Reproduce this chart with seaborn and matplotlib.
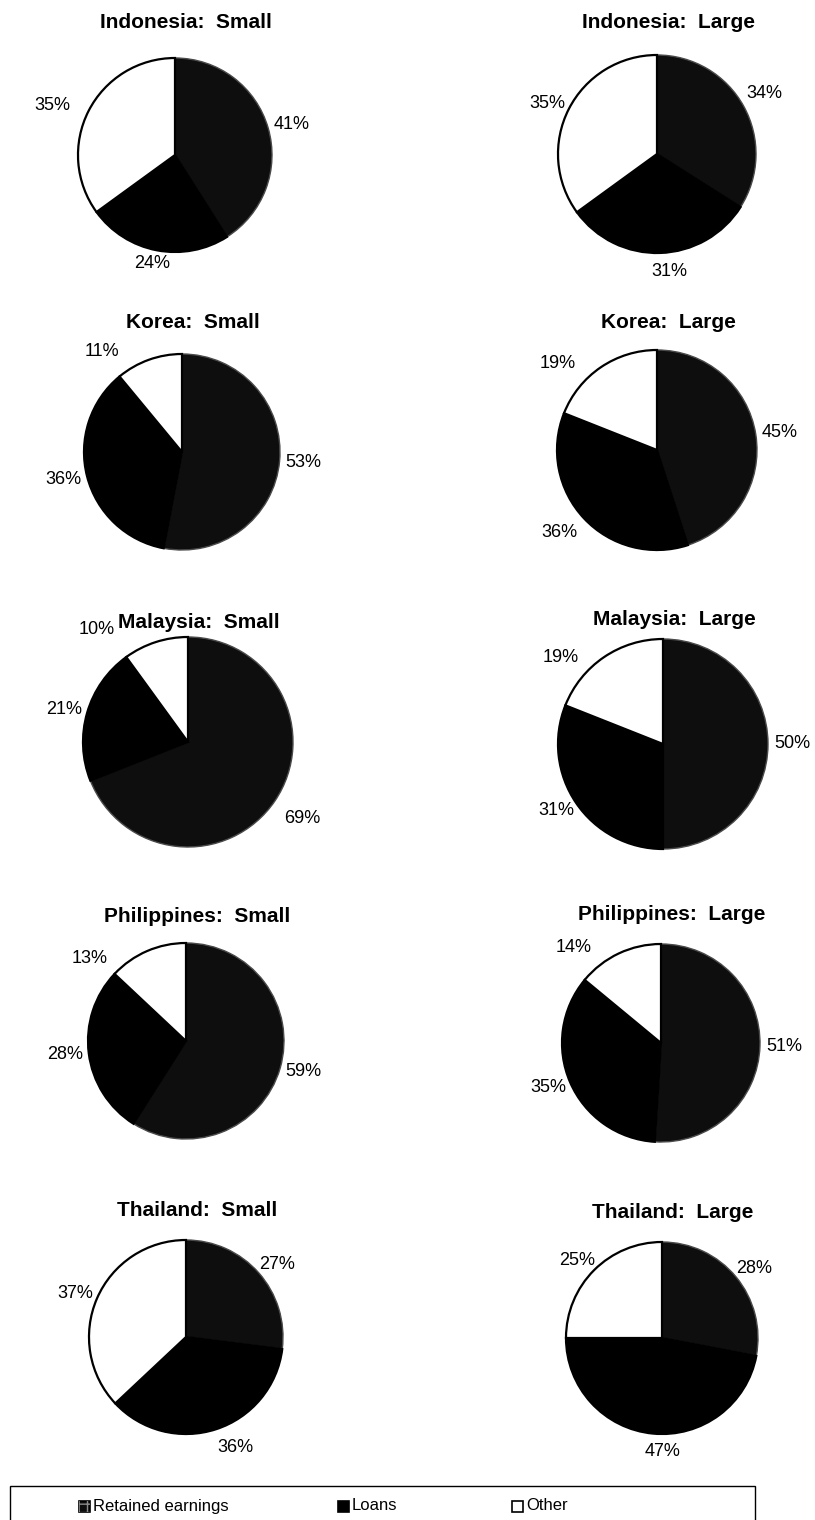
import numpy as np
import matplotlib
matplotlib.use("Agg")
import matplotlib.pyplot as plt
from matplotlib.patches import Rectangle
import seaborn as sns

# ---- data: financing shares (%) by country and firm size ----
countries = ["Indonesia", "Korea", "Malaysia", "Philippines", "Thailand"]
sizes = ["Small", "Large"]
segments = ["Retained earnings", "Loans", "Other"]

retained_small = [41, 53, 69, 59, 27]
loans_small = [24, 36, 21, 28, 36]
other_small = [35, 11, 10, 13, 37]

retained_large = [34, 45, 50, 51, 28]
loans_large = [31, 36, 31, 35, 47]
other_large = [35, 19, 19, 14, 25]

values = {
    "Small": list(zip(retained_small, loans_small, other_small)),
    "Large": list(zip(retained_large, loans_large, other_large)),
}

# ---- layout (pixels) ----
W, H = 815, 1520
pie_cx = {"Small": [175, 182, 188, 186, 186], "Large": [657, 657, 663, 661, 662]}
pie_cy = {"Small": [155, 452, 742, 1041, 1337], "Large": [154, 450, 744, 1043, 1338]}
pie_r = {"Small": [97, 98, 105, 98, 97], "Large": [99, 100, 105, 99, 96]}
title_y = {"Small": [22, 323, 622, 917, 1211], "Large": [23, 323, 619, 915, 1212]}
title_dx = 11

# hand adjustments of individual percentage labels (dx, dy in px, y down)
label_nudge = {
    ("Indonesia", "Small", "Other"): (-15, 0),
    ("Indonesia", "Large", "Retained earnings"): (0, -7),
    ("Indonesia", "Large", "Loans"): (8, 6),
    ("Korea", "Small", "Other"): (-39, 4),
    ("Korea", "Large", "Loans"): (-7, 5),
    ("Korea", "Large", "Other"): (-30, 7),
    ("Malaysia", "Small", "Retained earnings"): (8, 10),
    ("Malaysia", "Small", "Other"): (-51, 0),
    ("Malaysia", "Large", "Other"): (-30, 11),
    ("Philippines", "Small", "Other"): (-48, 19),
    ("Philippines", "Large", "Other"): (-35, 6),
    ("Thailand", "Small", "Loans"): (12, 6),
    ("Thailand", "Large", "Loans"): (12, 5),
}

colors = ["#0e0e0e", "#000000", "#ffffff"]

sns.set_theme(style="white")
plt.rcParams["font.family"] = ["Liberation Sans", "DejaVu Sans"]

fig = plt.figure(figsize=(W / 100, H / 100), dpi=100)
fig.patch.set_facecolor("white")

LABEL_W, LABEL_H, GAP = 38, 16, 5

for size in sizes:
    for i, country in enumerate(countries):
        cx, cy, r = pie_cx[size][i], pie_cy[size][i], pie_r[size][i]
        ax = fig.add_axes([(cx - r) / W, 1 - (cy + r) / H, 2 * r / W, 2 * r / H])
        vals = values[size][i]
        wedges, _ = ax.pie(
            vals, colors=colors, startangle=90, counterclock=False,
            radius=1, wedgeprops=dict(edgecolor="black", linewidth=1.6),
        )
        # retained-earnings wedge: dark fill with a greyish rim
        wedges[0].set_edgecolor("#4a4a4a")
        wedges[0].set_linewidth(1.0)
        wedges[0].set_zorder(1)
        wedges[1].set_zorder(2)
        wedges[2].set_zorder(3)
        ax.set_xlim(-1.0, 1.0)
        ax.set_ylim(-1.0, 1.0)
        ax.set_aspect("equal")
        ax.axis("off")

        for seg, wedge, v in zip(segments, wedges, vals):
            mid = np.deg2rad((wedge.theta1 + wedge.theta2) / 2)
            ux, uy = np.cos(mid), np.sin(mid)
            px = ux * (r + GAP) + ux * LABEL_W / 2
            py = uy * (r + GAP) + uy * LABEL_H / 2
            dx, dy = label_nudge.get((country, size, seg), (0, 0))
            px += dx
            py -= dy
            ax.text(px / r, py / r, f"{v}%", ha="center", va="center",
                    fontsize=13, color="black", clip_on=False, zorder=5)

        fig.text((cx + title_dx) / W, 1 - title_y[size][i] / H,
                 f"{country}:  {size}", ha="center", va="center",
                 fontsize=15, fontweight="bold", color="black")

# ---- legend box along the bottom ----
box_l, box_r, box_t = 10, 755, 1486
fig.patches.append(Rectangle((box_l / W, -0.01), (box_r - box_l) / W, 1 - box_t / H + 0.01,
                             transform=fig.transFigure, facecolor="none",
                             edgecolor="black", linewidth=1.0, clip_on=False))
legend_y = 1506
legend_x = [79, 338, 512]
msz = 11
for seg, col, x0 in zip(segments, colors, legend_x):
    fig.patches.append(Rectangle((x0 / W, 1 - (legend_y + msz / 2) / H), msz / W, msz / H,
                                 transform=fig.transFigure, facecolor=col,
                                 edgecolor="black", linewidth=1.2))
    if seg == "Retained earnings":
        fig.patches.append(Rectangle((x0 / W, 1 - (legend_y + msz / 2) / H), msz / W, msz / H,
                                     transform=fig.transFigure, facecolor="none",
                                     edgecolor="#8a8a8a", hatch="++", linewidth=0))
    fig.text((x0 + msz + 3) / W, 1 - legend_y / H, seg, ha="left", va="center",
             fontsize=12, color="black")

fig.savefig("out.png", dpi=100, facecolor="white")
